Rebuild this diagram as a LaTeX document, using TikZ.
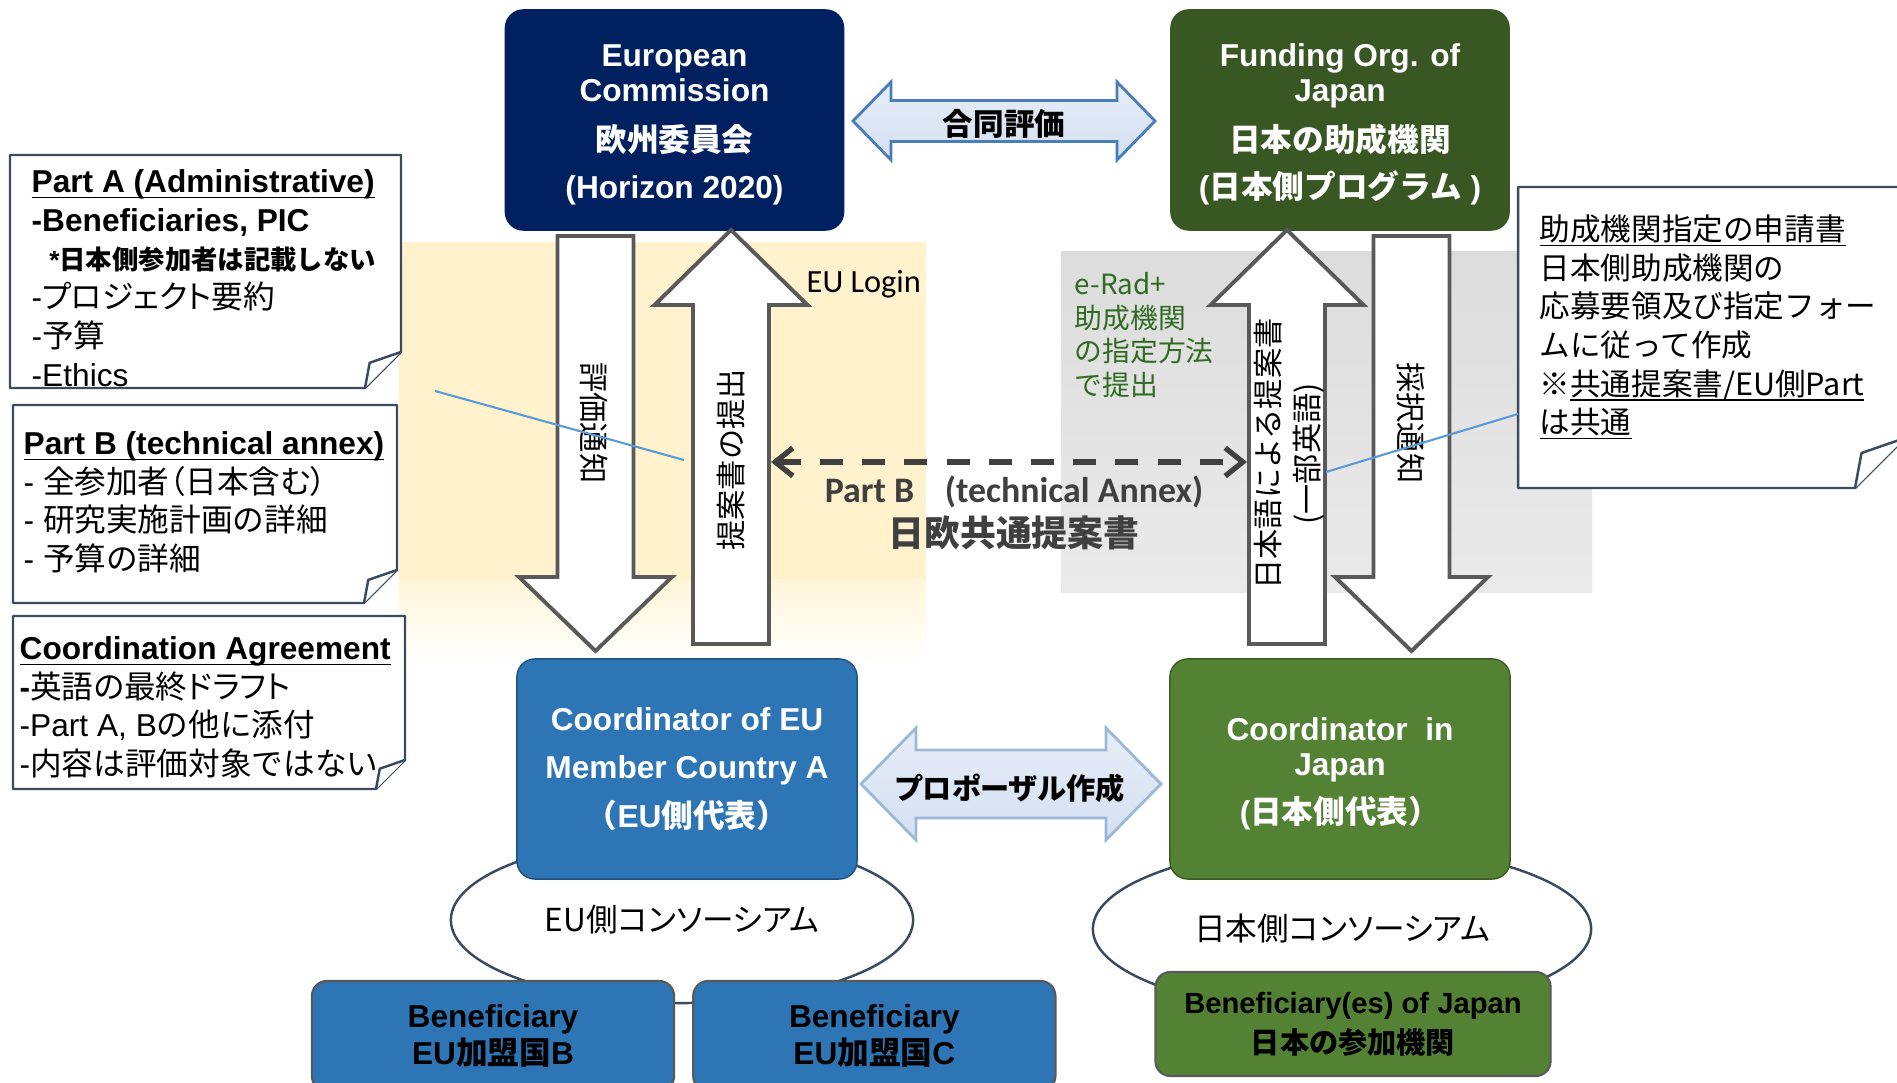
\documentclass[tikz,border=0pt]{standalone}
\usepackage{fontspec}
\setmainfont{Liberation Sans}
\newfontfamily\jp{Noto Sans CJK JP}
\newfontfamily\jpp[RawFeature=+palt]{Noto Sans CJK JP}
\newfontfamily\carlito{Carlito}
\newcommand\notelines{\lineskiplimit=-20pt\relax}
\newcommand\headline[2][0pt]{\underline{\raisebox{0pt}[\height][0pt]{#2}\rule[-#1]{0pt}{0pt}}}
\usetikzlibrary{
  arrows.meta,
  calc,
  positioning,
  shapes.geometric
}
\definecolor{ecnavy}{HTML}{002060}
\definecolor{jpforest}{HTML}{385723}
\definecolor{eublue}{HTML}{2E75B6}
\definecolor{jpgreen}{HTML}{548235}
\definecolor{arrowgray}{HTML}{595959}
\definecolor{annexgray}{HTML}{404040}
\definecolor{submitbg}{HTML}{FFF2CC}
\definecolor{eradbg}{HTML}{DCDCDC}
\definecolor{pointblue}{HTML}{5B9BD5}
\definecolor{jointfill}{HTML}{D5E0F2}
\definecolor{jointline}{HTML}{4A7EBB}
\definecolor{eradgreen}{HTML}{2F6B22}
\definecolor{noteline}{HTML}{3B4A5E}

\begin{document}
\begin{tikzpicture}[
  x=0.01cm, y=-0.01cm,
  orgbox/.style={rectangle, rounded corners=0.18cm, minimum width=3.38cm, minimum height=2.2cm,
    inner sep=0pt, text=white, align=center, font=\fontsize{9}{10}\selectfont\bfseries},
  benbox/.style={rectangle, rounded corners=0.15cm, draw=black!65, line width=0.6pt, inner sep=0pt,
    text=black, align=center, font=\fontsize{9}{9.4}\selectfont\bfseries},
  consort/.style={ellipse, draw=noteline, line width=0.7pt, fill=white, inner sep=0pt,
    font=\jpp\fontsize{9}{10}\selectfont},
  note/.style={draw=noteline, line width=0.7pt, fill=white, line join=round},
  notetext/.style={anchor=north west, align=left, inner sep=0pt,
    font=\fontsize{9}{11}\selectfont\notelines},
  bigarrow/.style={draw=arrowgray, line width=1.1pt, fill=white},
  arrowlabel/.style={inner sep=0pt, align=center, font=\jp\fontsize{8.6}{11}\selectfont},
  joint/.style={line width=0.8pt, top color=jointfill!55, bottom color=jointfill, middle color=jointfill!80},
  jointlabel/.style={inner sep=0pt, font=\jpp\bfseries\fontsize{8.7}{10}\selectfont},
  annexarrow/.style={{Straight Barb[length=5pt,width=8pt]}-{Straight Barb[length=5pt,width=8pt]},
    annexgray, line width=1.5pt, dash pattern=on 6.5pt off 5.5pt},
  annextext/.style={inner sep=0pt, text=annexgray, font=\jp\bfseries\fontsize{10.2}{12}\selectfont},
  pointer/.style={pointblue, line width=0.6pt},
]
\useasboundingbox (0,0) rectangle (1897,1083);

% --- background bands ---
\fill[submitbg] (399,242) rectangle (926,580);
\shade[top color=submitbg!75, bottom color=white] (399,580) rectangle (926,662);
\shade[top color=eradbg, bottom color=eradbg!60] (1061,252) rectangle (1592,593);

% --- folded notes ---
\foreach \l/\t/\r/\b/\f in {10/155/401/388/36, 13/405/397/603/33, 13/616/405/789/29, 1518/187/1905/488/50} {
  \draw[note] (\l,\t) -- (\r,\t) -- (\r,\b-\f) -- (\r-\f,\b) -- (\l,\b) -- cycle;
  \draw[note] (\r,\b-\f) -- (\r-0.87*\f,\b-0.7*\f) -- (\r-\f,\b);
}

\node[notetext] (partA) at (31,169) {%
  \textbf{\headline{Part A (Administrative)}}\\
  \textbf{-Beneficiaries, PIC}\\
  \hspace{5pt}{\fontsize{7.5}{11}\selectfont\bfseries *{\jp 日本側参加者は記載しない}}\\
  -{\jpp プロジェクト要約}\\
  -{\jp 予算}\\
  -Ethics};

\node[notetext] (partB) at (23,431) {%
  \textbf{\headline{Part B (technical annex)}}\\
  - {\jpp 全参加者（日本含む）}\\
  - {\jp 研究実施計画の詳細}\\
  - {\jp 予算の詳細}};

\node[notetext] (coordagr) at (19,636) {%
  \textbf{\headline{Coordination Agreement}}\\
  \textbf{-}{\jpp 英語の最終ドラフト}\\
  -Part A, B{\jp の他に添付}\\
  -{\jp 内容は評価対象ではない}};

\node[notetext, font=\jp\fontsize{8.7}{11}\selectfont\notelines] (guide) at (1539,214) {%
  \headline{助成機関指定の申請書}\\
  日本側助成機関の\\
  応募要領及び指定フォー\\
  ムに従って作成\\
  ※\headline{共通提案書/EU側Part}\\
  \headline{は共通}};

% --- funding bodies ---
\node[orgbox, fill=ecnavy, draw=ecnavy] (ec) at (674.5,120)
  {\rule{0pt}{9pt}European\\Commission\\[4pt]{\jp 欧州委員会}\\[3.4pt](Horizon 2020)};
\node[orgbox, fill=jpforest, draw=jpforest] (fo) at (1340,120)
  {\rule{0pt}{9pt}Funding Org. of\\Japan\\[4pt]{\jp 日本の助成機関}\\[3.4pt]({\jp 日本側プログラム} )};

% --- double block arrows ---
\foreach \l/\r/\cy/\hh/\sh/\hl/\jc in {853/1155/121/39/20.5/38/jointline, 861/1161/784/56/34/55/jointline!55} {
  \draw[joint, draw=\jc] (\l,\cy) -- (\l+\hl,\cy-\hh) -- (\l+\hl,\cy-\sh) -- (\r-\hl,\cy-\sh)
    -- (\r-\hl,\cy-\hh) -- (\r,\cy) -- (\r-\hl,\cy+\hh) -- (\r-\hl,\cy+\sh)
    -- (\l+\hl,\cy+\sh) -- (\l+\hl,\cy+\hh) -- cycle;
}
\node[jointlabel] (jointeval) at (1004,124) {合同評価};
\node[jointlabel, font=\jpp\bfseries\fontsize{8.3}{10}\selectfont] (proposal) at (1010,788) {プロポーザル作成};

% --- consortia ---
\node[consort, minimum width=4.62cm, minimum height=1.66cm] (eucons) at (682,920) {EU側コンソーシアム};
\node[consort, minimum width=4.98cm, minimum height=1.68cm] (jpcons) at (1342,929) {日本側コンソーシアム};

\node[orgbox, minimum width=3.40cm, fill=eublue, draw=eublue!70!black] (coordeu) at (687,769)
  {Coordinator of EU\\[3.8pt]Member Country A\\[3.8pt]{\jp （}EU{\jp 側代表）}};
\node[orgbox, minimum width=3.40cm, fill=jpgreen, draw=jpgreen!70!black] (coordjp) at (1340,769)
  {\rule{0pt}{9pt}Coordinator\ \ in\\Japan\\[3.6pt]({\jp 日本側代表）}};

\node[benbox, fill=eublue, minimum width=3.62cm, minimum height=1.10cm] (benB) at (493,1036)
  {Beneficiary\\EU{\jp 加盟国}B};
\node[benbox, fill=eublue, minimum width=3.62cm, minimum height=1.10cm, right=0.17cm of benB] (benC)
  {Beneficiary\\EU{\jp 加盟国}C};
\node[benbox, fill=jpgreen, minimum width=3.95cm, minimum height=1.04cm,
  font=\fontsize{8.3}{11.4}\selectfont\bfseries] (benJP) at (1353,1024)
  {Beneficiary(es) of Japan\\{\jp 日本の参加機関}};

% --- submission / notice arrows ---
\foreach \ax in {595.5, 1411.5} {
  \draw[bigarrow] (\ax-38,236) -- (\ax-38,577) -- (\ax-76.5,577) -- (\ax,651)
    -- (\ax+76.5,577) -- (\ax+38,577) -- (\ax+38,236) -- cycle;
}
\foreach \ax in {731, 1287} {
  \draw[bigarrow] (\ax-38,644) -- (\ax-38,305) -- (\ax-76.5,305) -- (\ax,230)
    -- (\ax+76.5,305) -- (\ax+38,305) -- (\ax+38,644) -- cycle;
}
\node[arrowlabel, rotate=-90] (evalnote) at (594,423) {評価通知};
\node[arrowlabel, rotate=90] (submit) at (731,460) {提案書の提出};
\node[arrowlabel, rotate=90] (jpsubmit) at (1289,454) {日本語による提案書\\(一部英語)};
\node[arrowlabel, rotate=-90] (adopt) at (1411,423) {採択通知};

\node[anchor=west, inner sep=0pt, font=\carlito\fontsize{9.2}{10}\selectfont] (eulogin) at (806,284) {EU Login};
\node[notetext, font=\jp\fontsize{7.9}{9.5}\selectfont\notelines, text=eradgreen] (erad) at (1074,272)
  {e-Rad+\\助成機関\\の指定方法\\で提出};

% --- common Part B ---
\coordinate (annexL) at (771,462);
\coordinate (annexR) at (1247,462);
\draw[annexarrow] (annexL) -- (annexR);
\node[annextext, font=\carlito\bfseries\fontsize{10.2}{12}\selectfont] (annexen) at (1014,492)
  {Part B\hspace{0.85em}(technical Annex)};
\node[annextext, below=0.06cm of annexen] (annexja) {日欧共通提案書};

% --- callout pointers ---
\coordinate (ptrA) at (435,391);
\coordinate (ptrAend) at (684,460);
\coordinate (ptrG) at (1518,414);
\coordinate (ptrGend) at (1326,472);
\draw[pointer] (ptrA) -- (ptrAend);
\draw[pointer] (ptrG) -- (ptrGend);

\end{tikzpicture}
\end{document}
